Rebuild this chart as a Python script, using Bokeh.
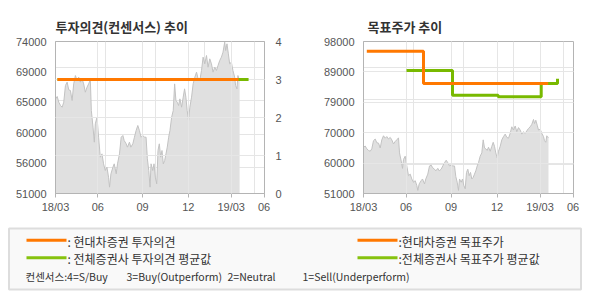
from bokeh.plotting import figure
from bokeh.models import FixedTicker, LinearAxis, Range1d, Title, ColumnDataSource, Grid
from bokeh.layouts import column, row
from bokeh.embed import file_html
from bokeh.resources import INLINE
from bokeh.core.properties import value

# ---------------- data ----------------
# trading-day position (month ticks below) and close price
days = [0, 1.7, 3.3, 5, 6.7, 8.3, 10, 11.7, 13.3, 15, 16.7, 18.3, 20, 21.7, 23.3, 25,
        26.7, 28.3, 30, 31.7, 33.3, 35, 36, 37.7, 39, 40, 41.7, 43.3, 45, 46.7, 48.3,
        50, 51.7, 53.3, 54.3, 55.7, 57.7, 59, 61, 62.3, 64.3, 66, 67.7, 69, 71, 72.3,
        74.3, 75.7, 77.7, 79.3, 81, 82.7, 84.3, 86, 87.7, 89.3, 91, 92.3, 93.7, 95, 96,
        97.7, 99, 100.3, 101.7, 103, 104.3, 105.7, 107, 108.3, 109.7, 111, 112.3, 113.7,
        115, 116.7, 118.3, 119.7, 121, 122.3, 123.7, 125, 126.7, 128.3, 129.7, 131,
        132.3, 133.7, 135, 136.7, 138.3, 140, 141.7, 143.3, 145, 146.7, 148.3, 150,
        151.7, 153.3, 155, 156.7, 158.3, 160, 161.7, 163.3, 165, 166.7, 168.3, 170, 171,
        172.3, 173.7, 175, 176.7, 178.3, 180, 181, 182.3, 183.3, 184.3, 185]
close = [65300, 65680, 64820, 64320, 64060, 64820, 67340, 67850, 66690, 66580, 65070,
         67590, 68850, 68100, 68600, 67850, 68350, 67590, 66330, 67090, 67590, 68200,
         63560, 61040, 58770, 61540, 62550, 59520, 56500, 57000, 55490, 54480, 54980,
         53470, 51960, 53980, 54980, 55490, 53980, 55490, 57000, 59520, 59780, 59020,
         58520, 58010, 58770, 58010, 58520, 59520, 60530, 61290, 60530, 59520, 59780,
         59520, 59520, 56250, 54480, 51960, 55490, 54480, 55490, 53470, 52460, 57510,
         58520, 56500, 57510, 55490, 55990, 57000, 58010, 59520, 60530, 62550, 63560,
         67590, 65070, 64820, 64320, 65320, 64060, 65580, 66840, 65580, 63560, 62040,
         64060, 65580, 67590, 68600, 69360, 68350, 68100, 69610, 71630, 70620, 71880,
         70110, 71380, 70620, 69360, 70110, 69610, 70370, 71120, 71630, 72380, 73900,
         72630, 73650, 72130, 70620, 70870, 69610, 68600, 67340, 66840, 68850, 68350,
         68350]

month_ticks = [0, 42.5, 87.5, 133.5, 176.5, 209.5]
month_labels = ["18/03", "06", "09", "12", "19/03", "06"]

# 투자의견 (consensus score, 4=S/Buy ... 1=Sell)
op_days = [2, 184]
op_hyundai = [3, 3]
op_avg_days = [2, 194]
op_avg = [3, 3]

# 목표주가 (target price)
tp_days = [3.3, 60, 184.7]
tp_hyundai = [95000, 85000, 85000]
tp_avg_days = [43, 89, 134.7, 177.7, 194]
tp_avg = [89000, 81400, 80900, 85000, 86500]

left_ticks = [51000, 55600, 60200, 64800, 69400, 74000]
left_labels = ["51000", "56000", "60000", "65000", "69000", "74000"]
right_ticks = [51000, 60400, 69800, 79200, 88600, 98000]
right_labels = ["51000", "60000", "70000", "79000", "89000", "98000"]
op_ticks = [0, 1, 2, 3, 4]

legend_labels = [": 현대차증권 투자의견", ": 전체증권사 투자의견 평균값",
                 ":현대차증권 목표주가", ":전체증권사 목표주가 평균값"]
consensus_parts = ["컨센서스:4=S/Buy", "3=Buy(Outperform)", "2=Neutral", "1=Sell(Underperform)"]

# ---------------- style ----------------
ORANGE = "#ff7800"
GREEN = "#78b900"
LG_GREEN = "#86c20e"
BORDER = "#b4b4b4"
GRID = "#e6e6e6"
AREA = "#e0e0e0"
AREA_LINE = "#c2c2c2"
TICK_FONT = "Liberation Sans"
KR_FONT = "Noto Sans CJK KR"


def make_fig(title, y0, y1, ticks, labels, top, left, right, title_offset):
    p = figure(width=295, height=220, x_range=Range1d(0, 210), y_range=Range1d(y0, y1),
               output_backend="svg", toolbar_location=None,
               min_border_left=left, min_border_right=right,
               min_border_top=top, min_border_bottom=27,
               x_axis_location=None, y_axis_location=None)
    p.title = Title(text="")
    p.add_layout(Title(text=title, text_font=KR_FONT, text_font_size="13px",
                       text_font_style="bold", text_color="#333333", align="left",
                       offset=title_offset, standoff=12), "above")
    p.outline_line_color = BORDER
    p.background_fill_color = "white"
    p.border_fill_color = "white"

    xax = LinearAxis(ticker=FixedTicker(ticks=month_ticks))
    xax.major_label_overrides = {t: l for t, l in zip(month_ticks, month_labels)}
    xax.axis_line_color = BORDER
    xax.major_tick_line_color = BORDER
    xax.major_tick_out = 4
    xax.major_tick_in = 0
    xax.minor_tick_line_color = None
    xax.major_label_standoff = 3
    xax.major_label_text_font = TICK_FONT
    xax.major_label_text_font_size = "11px"
    xax.major_label_text_color = "#555555"
    p.add_layout(xax, "below")

    yax = LinearAxis(ticker=FixedTicker(ticks=ticks))
    yax.major_label_overrides = {t: l for t, l in zip(ticks, labels)}
    yax.axis_line_color = BORDER
    yax.major_tick_line_color = None
    yax.minor_tick_line_color = None
    yax.major_label_standoff = 3
    yax.major_label_text_font = TICK_FONT
    yax.major_label_text_font_size = "11px"
    yax.major_label_text_color = "#555555"
    p.add_layout(yax, "left")

    xg = Grid(dimension=0, ticker=FixedTicker(ticks=month_ticks[1:-1]),
              grid_line_color=GRID, level="annotation")
    p.add_layout(xg)

    src = ColumnDataSource(dict(x=days, y=close))
    p.varea(x="x", y1=y0, y2="y", source=src, fill_color=AREA)
    p.line(x="x", y="y", source=src, line_color=AREA_LINE, line_width=1)
    return p


# left chart: 투자의견
p1 = make_fig("투자의견(컨센서스) 추이", 51000, 74000, left_ticks, left_labels, 41, 55, 31, 0)
p1.extra_y_ranges = {"op": Range1d(0, 4)}
rax = LinearAxis(y_range_name="op", ticker=FixedTicker(ticks=op_ticks))
rax.axis_line_color = BORDER
rax.major_tick_line_color = None
rax.minor_tick_line_color = None
rax.major_label_standoff = 5
rax.major_label_text_font = TICK_FONT
rax.major_label_text_font_size = "11px"
rax.major_label_text_color = "#555555"
p1.add_layout(rax, "right")
p1.add_layout(Grid(dimension=1, y_range_name="op", ticker=FixedTicker(ticks=op_ticks[1:-1]),
                   grid_line_color=GRID, level="annotation"))
r = p1.line(op_avg_days, op_avg, y_range_name="op", line_color=GREEN, line_width=3)
r.level = "overlay"
r = p1.line(op_days, op_hyundai, y_range_name="op", line_color=ORANGE, line_width=3)
r.level = "overlay"

# right chart: 목표주가
p2 = make_fig("목표주가 추이", 51000, 98000, right_ticks, right_labels, 40, 68, 17, 4)
p2.add_layout(Grid(dimension=1, ticker=FixedTicker(ticks=right_ticks[1:-1]),
                   grid_line_color=GRID, level="annotation"))
r = p2.step(tp_avg_days, tp_avg, mode="after", line_color=GREEN, line_width=3)
r.level = "overlay"
r = p2.step(tp_days, tp_hyundai, mode="after", line_color=ORANGE, line_width=3)
r.level = "overlay"

# legend panel
lg = figure(width=590, height=80, x_range=Range1d(0, 590), y_range=Range1d(80, 0),
            output_backend="svg", toolbar_location=None, min_border=0,
            x_axis_location=None, y_axis_location=None)
lg.grid.visible = False
lg.outline_line_color = None
lg.background_fill_color = "white"
lg.border_fill_color = "white"
lg.quad(left=[8.5], right=[580.5], top=[8], bottom=[69], fill_color="#f9f9f9",
        line_color="#dddddd", line_width=2)
sample_x0 = [26, 26, 357, 357]
sample_x1 = [66, 66, 397, 397]
sample_y = [19.7, 37.3, 19.7, 37.3]
sample_c = [ORANGE, LG_GREEN, ORANGE, LG_GREEN]
lg.segment(x0=sample_x0, y0=sample_y, x1=sample_x1, y1=sample_y, line_color=sample_c, line_width=3)
lg.text(x=[67, 67, 398, 398], y=[20.5, 38, 20.5, 38], text=legend_labels,
        text_font=value(KR_FONT), text_font_size="12px", text_color="#333333",
        text_baseline="middle", text_align="left")
lg.text(x=[25, 126, 227, 302], y=[56, 56, 56, 56], text=consensus_parts,
        text_font=value(KR_FONT), text_font_size="10.5px", text_color="#333333",
        text_baseline="middle", text_align="left")

layout = column(row(p1, p2, spacing=0), lg, spacing=0)
open("out.html", "w").write(file_html(layout, INLINE))
